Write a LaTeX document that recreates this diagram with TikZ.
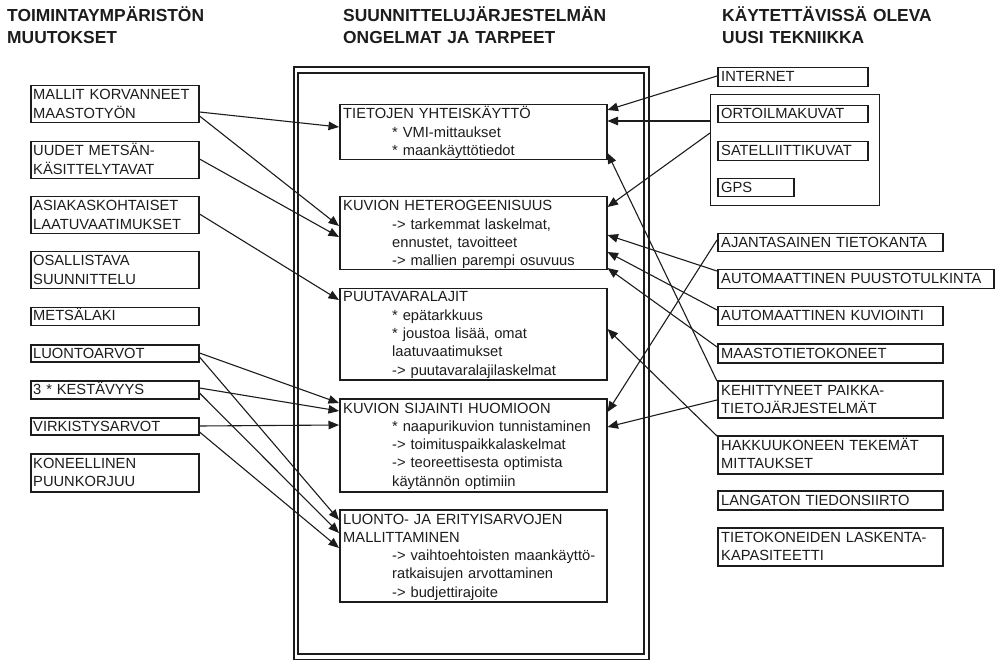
\documentclass[tikz,border=0pt]{standalone}
\usepackage{fontspec}
\setmainfont{Liberation Sans}
\usetikzlibrary{arrows.meta}
\definecolor{ink}{HTML}{1C1C1C}
\newcommand\indln{\hspace*{49pt}}
\begin{document}
\begin{tikzpicture}[x=1pt,y=-1pt,
  box/.style={draw=ink, line width=1.5pt, inner sep=0pt, anchor=north west, rectangle},
  frame/.style={draw=ink, line width=1.6pt, inner sep=0pt, anchor=north west, rectangle},
  txt/.style={anchor=base west, inner sep=0pt, text width=#1, align=left, text=ink,
    font=\fontsize{14.7}{18.3}\selectfont},
  head/.style={anchor=base west, inner sep=0pt, text width=300pt, align=left, text=ink,
    font=\bfseries\fontsize{17.4}{22}\selectfont},
  conn/.style={draw=ink, line width=1.1pt, -{Triangle[length=10.5pt,width=8.5pt]}}]
\useasboundingbox (0,0) rectangle (996,660);

% column headings
\node[head] (h1) at (7,22) {TOIMINTAYMPÄRISTÖN\\MUUTOKSET};
\node[head] (h2) at (343,22) {SUUNNITTELUJÄRJESTELMÄN\\ONGELMAT JA TARPEET};
\node[head] (h3) at (722,22) {KÄYTETTÄVISSÄ OLEVA\\UUSI TEKNIIKKA};

% double frame around the planning-system column
\node[frame, minimum width=355pt, minimum height=593pt] (outerframe) at (293,66) {};
\node[frame, minimum width=346pt, minimum height=581pt] (innerframe) at (297,72) {};

% left column: changes in the operating environment
\node[box, minimum width=168pt, minimum height=37pt] (lb1) at (30,85) {};
\node[box, minimum width=168pt, minimum height=37pt] (lb2) at (30,141) {};
\node[box, minimum width=168pt, minimum height=37pt] (lb3) at (30,196) {};
\node[box, minimum width=168pt, minimum height=37pt] (lb4) at (30,251) {};
\node[box, minimum width=168pt, minimum height=18pt] (lb5) at (30,307) {};
\node[box, minimum width=168pt, minimum height=17pt] (lb6) at (30,344) {};
\node[box, minimum width=168pt, minimum height=18pt] (lb7) at (30,380) {};
\node[box, minimum width=168pt, minimum height=17pt] (lb8) at (30,417) {};
\node[box, minimum width=168pt, minimum height=38pt] (lb9) at (30,453) {};

\node[txt=162pt] (lt1) at ([xshift=3pt,yshift=-15pt]lb1.north west) {MALLIT KORVANNEET\\MAASTOTYÖN};
\node[txt=162pt] (lt2) at ([xshift=3pt,yshift=-15pt]lb2.north west) {UUDET METSÄN-\\KÄSITTELYTAVAT};
\node[txt=162pt] (lt3) at ([xshift=3pt,yshift=-15pt]lb3.north west) {ASIAKASKOHTAISET\\LAATUVAATIMUKSET};
\node[txt=162pt] (lt4) at ([xshift=3pt,yshift=-15pt]lb4.north west) {OSALLISTAVA\\SUUNNITTELU};
\node[txt=162pt] (lt5) at ([xshift=3pt,yshift=-14pt]lb5.north west) {METSÄLAKI};
\node[txt=162pt] (lt6) at ([xshift=3pt,yshift=-14pt]lb6.north west) {LUONTOARVOT};
\node[txt=162pt] (lt7) at ([xshift=3pt,yshift=-14pt]lb7.north west) {3 * KESTÄVYYS};
\node[txt=162pt] (lt8) at ([xshift=3pt,yshift=-14pt]lb8.north west) {VIRKISTYSARVOT};
\node[txt=162pt] (lt9) at ([xshift=3pt,yshift=-15pt]lb9.north west) {KONEELLINEN\\PUUNKORJUU};

% middle column: problems and needs
\node[box, minimum width=267pt, minimum height=55pt] (cb1) at (339,104) {};
\node[box, minimum width=267pt, minimum height=73pt] (cb2) at (339,196) {};
\node[box, minimum width=267pt, minimum height=91pt] (cb3) at (339,288) {};
\node[box, minimum width=267pt, minimum height=93pt] (cb4) at (339,398) {};
\node[box, minimum width=267pt, minimum height=92pt] (cb5) at (339,509) {};

\node[txt=262pt] (ct1) at ([xshift=4pt,yshift=-15pt]cb1.north west)
  {TIETOJEN YHTEISKÄYTTÖ\\\indln* VMI-mittaukset\\\indln* maankäyttötiedot};
\node[txt=262pt] (ct2) at ([xshift=4pt,yshift=-15pt]cb2.north west)
  {KUVION HETEROGEENISUUS\\\indln-> tarkemmat laskelmat,\\\indln ennustet, tavoitteet\\\indln-> mallien parempi osuvuus};
\node[txt=262pt] (ct3) at ([xshift=4pt,yshift=-14pt]cb3.north west)
  {PUUTAVARALAJIT\\\indln* epätarkkuus\\\indln* joustoa lisää, omat\\\indln laatuvaatimukset\\\indln-> puutavaralajilaskelmat};
\node[txt=262pt] (ct4) at ([xshift=4pt,yshift=-15pt]cb4.north west)
  {KUVION SIJAINTI HUOMIOON\\\indln* naapurikuvion tunnistaminen\\\indln-> toimituspaikkalaskelmat\\\indln-> teoreettisesta optimista\\\indln käytännön optimiin};
\node[txt=262pt] (ct5) at ([xshift=4pt,yshift=-15pt]cb5.north west)
  {LUONTO- JA ERITYISARVOJEN\\MALLITTAMINEN\\\indln-> vaihtoehtoisten maankäyttö-\\\indln ratkaisujen arvottaminen\\\indln-> budjettirajoite};

% right column: available new technology
\node[box, minimum width=150pt, minimum height=19pt] (rb1) at (717,67) {};
\node[frame, line width=1.1pt, minimum width=169pt, minimum height=111pt] (grp) at (710,94) {};
\node[box, minimum width=150pt, minimum height=17pt] (rb2) at (717,105) {};
\node[box, minimum width=150pt, minimum height=19pt] (rb3) at (717,141) {};
\node[box, minimum width=76pt, minimum height=18pt] (rb4) at (717,178) {};
\node[box, minimum width=225pt, minimum height=18pt] (rb5) at (717,233) {};
\node[box, minimum width=276pt, minimum height=19pt] (rb6) at (717,269) {};
\node[box, minimum width=225pt, minimum height=19pt] (rb7) at (717,306) {};
\node[box, minimum width=225pt, minimum height=19pt] (rb8) at (717,343) {};
\node[box, minimum width=225pt, minimum height=37pt] (rb9) at (717,380) {};
\node[box, minimum width=225pt, minimum height=38pt] (rb10) at (717,435) {};
\node[box, minimum width=225pt, minimum height=19pt] (rb11) at (717,490) {};
\node[box, minimum width=225pt, minimum height=38pt] (rb12) at (717,527) {};

\node[txt=270pt] (rt1) at ([xshift=4pt,yshift=-15pt]rb1.north west) {INTERNET};
\node[txt=270pt] (rt2) at ([xshift=4pt,yshift=-14pt]rb2.north west) {ORTOILMAKUVAT};
\node[txt=270pt] (rt3) at ([xshift=4pt,yshift=-15pt]rb3.north west) {SATELLIITTIKUVAT};
\node[txt=270pt] (rt4) at ([xshift=4pt,yshift=-15pt]rb4.north west) {GPS};
\node[txt=270pt] (rt5) at ([xshift=4pt,yshift=-15pt]rb5.north west) {AJANTASAINEN TIETOKANTA};
\node[txt=270pt] (rt6) at ([xshift=4pt,yshift=-15pt]rb6.north west) {AUTOMAATTINEN PUUSTOTULKINTA};
\node[txt=270pt] (rt7) at ([xshift=4pt,yshift=-15pt]rb7.north west) {AUTOMAATTINEN KUVIOINTI};
\node[txt=270pt] (rt8) at ([xshift=4pt,yshift=-15pt]rb8.north west) {MAASTOTIETOKONEET};
\node[txt=220pt] (rt9) at ([xshift=4pt,yshift=-15pt]rb9.north west) {KEHITTYNEET PAIKKA-\\TIETOJÄRJESTELMÄT};
\node[txt=220pt] (rt10) at ([xshift=4pt,yshift=-15pt]rb10.north west) {HAKKUUKONEEN TEKEMÄT\\MITTAUKSET};
\node[txt=220pt] (rt11) at ([xshift=4pt,yshift=-15pt]rb11.north west) {LANGATON TIEDONSIIRTO};
\node[txt=220pt] (rt12) at ([xshift=4pt,yshift=-15pt]rb12.north west) {TIETOKONEIDEN LASKENTA-\\KAPASITEETTI};

% connectors from the left column
\draw[conn] (lb1.east |- 0,112) -- (cb1.west |- 0,127);
\draw[conn] (lb1.east |- 0,116) -- (cb2.west |- 0,226);
\draw[conn] (lb2.east |- 0,159) -- (cb2.west |- 0,237);
\draw[conn] (lb3.east |- 0,214) -- (cb3.west |- 0,300);
\draw[conn] (lb6.east |- 0,353) -- (cb4.west |- 0,403);
\draw[conn] (lb6.east |- 0,357) -- (cb5.west |- 0,520);
\draw[conn] (lb7.east |- 0,388) -- (cb4.west |- 0,411);
\draw[conn] (lb7.east |- 0,393) -- (cb5.west |- 0,533);
\draw[conn] (lb8.east |- 0,426) -- (cb4.west |- 0,425);
\draw[conn] (lb8.east |- 0,432) -- (cb5.west |- 0,548);

% connectors from the right column
\draw[conn] (rb1.west |- 0,76) -- (cb1.east |- 0,110);
\draw[conn] (grp.west |- 0,121) -- (cb1.east |- 0,121);
\draw[conn] (grp.west |- 0,133) -- (cb2.east |- 0,207);
\draw[conn] (rb5.west |- 0,240) -- (cb4.east |- 0,412);
\draw[conn] (rb6.west |- 0,271) -- (cb2.east |- 0,235);
\draw[conn] (rb7.west |- 0,310) -- (cb2.east |- 0,252);
\draw[conn] (rb8.west |- 0,347) -- (cb2.east |- 0,268);
\draw[conn] (rb9.west |- 0,381) -- (cb1.east |- 0,153);
\draw[conn] (rb9.west |- 0,400) -- (cb4.east |- 0,427);
\draw[conn] (rb10.west |- 0,436) -- (cb3.east |- 0,329);
\end{tikzpicture}
\end{document}
